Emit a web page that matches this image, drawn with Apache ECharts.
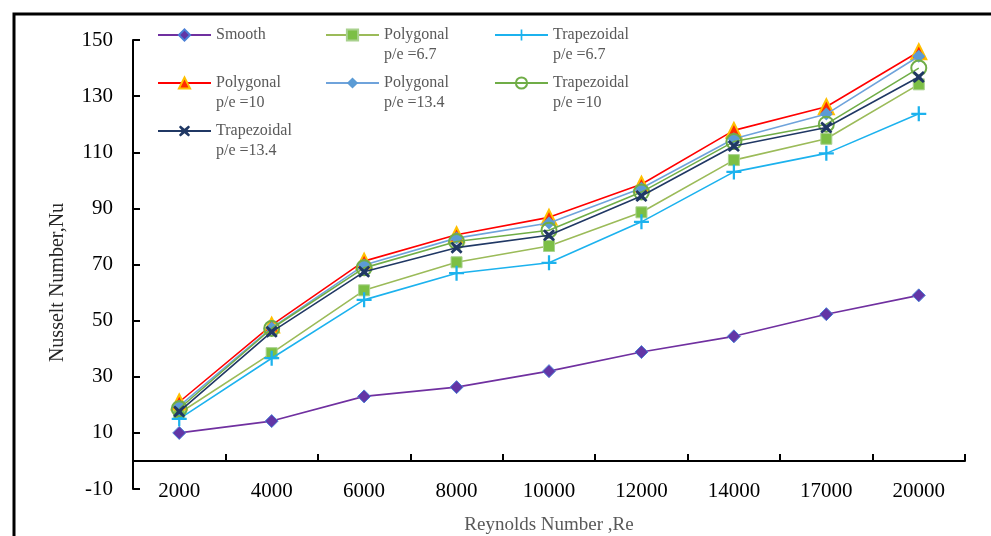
<!DOCTYPE html>
<html>
<head>
<meta charset="utf-8">
<script src="https://cdn.jsdelivr.net/npm/echarts@6/dist/echarts.min.js"></script>
<style>
html,body{margin:0;padding:0;background:#fff;}
#chart{width:991px;height:536px;}
</style>
</head>
<body>
<div id="chart"></div>
<script>
var categories = ['2000','4000','6000','8000','10000','12000','14000','17000','20000'];
var yTicks = [-10, 10, 30, 50, 70, 90, 110, 130, 150];
var seriesNames = ['Smooth','Polygonal\np/e =6.7','Trapezoidal\np/e =6.7','Polygonal\np/e =10','Polygonal\np/e =13.4','Trapezoidal\np/e =10','Trapezoidal\np/e =13.4'];
var smooth = [10, 14.2, 23, 26.3, 32, 38.8, 44.4, 52.3, 59];
var poly67 = [17, 38.4, 60.8, 70.8, 76.6, 88.6, 107.2, 114.8, 134.2];
var trap67 = [15, 36.6, 57.4, 66.9, 70.6, 85.2, 103, 109.6, 123.7];
var poly10 = [21, 48.4, 71.2, 80.6, 86.8, 98.6, 117.8, 126.2, 145.8];
var poly134 = [19.5, 47.4, 69.8, 79.4, 84.8, 97.2, 114.8, 123.6, 144.2];
var trap10 = [18.6, 47.2, 68.8, 78.2, 82.2, 95.8, 113.8, 120, 140];
var trap134 = [17.6, 46, 67.4, 76, 80.4, 94.4, 112.2, 118.8, 136.8];

var FONT = "'Liberation Serif','Times New Roman',serif";
var plusPath = 'path://M8.5,0H11.5V8.5H20V11.5H11.5V20H8.5V11.5H0V8.5H8.5Z';
var xPath = 'path://M0,3L3,0L10,6L17,0L20,3L14,10L20,17L17,20L10,14L3,20L0,17L6,10Z';

var styles = [
  {data: smooth, line:'#7030A0', symbol:'diamond', size:13, fill:'#6236A6', border:'#4A7FD6', bw:1},
  {data: poly67, line:'#9BBB59', symbol:'rect', size:11, fill:'#7CBF45', border:'#A9D18E', bw:1},
  {data: trap67, line:'#1CB2EE', symbol:plusPath, size:15, fill:'#1CB2EE', border:'#1CB2EE', bw:0},
  {data: poly10, line:'#FF0000', symbol:'triangle', size:15, fill:'#FF2A00', border:'#FFC000', bw:2},
  {data: poly134, line:'#6FA3DB', symbol:'diamond', size:13, fill:'#5B9BD5', border:'#5B9BD5', bw:0},
  {data: trap10, line:'#70AD47', symbol:'circle', size:15, fill:'rgba(255,255,255,0)', border:'#70AD47', bw:2},
  {data: trap134, line:'#203864', symbol:xPath, size:12, fill:'#203864', border:'#203864', bw:0}
];

var series = styles.map(function(s, i){
  return {
    name: seriesNames[i],
    type: 'line',
    xAxisIndex: 0,
    data: s.data,
    symbol: s.symbol,
    symbolSize: s.size,
    showAllSymbol: true,
    lineStyle: {color: s.line, width: 1.6},
    itemStyle: {color: s.fill, borderColor: s.border, borderWidth: s.bw},
    emphasis: {disabled: true},
    animation: false,
    z: 2 + i
  };
});

var legendPos = [
  [157, 25], [325, 5], [494, 5],
  [157, 53], [325, 53], [494, 53],
  [157, 101]
];
var legends = seriesNames.map(function(n, i){
  var twoLine = n.indexOf('\n') >= 0;
  return {
    data: [n],
    left: legendPos[i][0],
    top: legendPos[i][1],
    padding: 0,
    itemWidth: 53,
    itemHeight: 14,
    itemGap: 0,
    selectedMode: false,
    formatter: function(name){ return twoLine ? '\n' + name : name; },
    textStyle: {
      fontFamily: FONT, fontSize: 16, color: '#595959', lineHeight: 20
    }
  };
});

var chart = echarts.init(document.getElementById('chart'));
chart.setOption({
  backgroundColor: '#fff',
  animation: false,
  legend: legends,
  grid: {left: 133, right: 26, top: 40, bottom: 47, containLabel: false, outerBoundsMode: 'none'},
  xAxis: [
    {
      type: 'category', data: categories, position: 'bottom',
      boundaryGap: true,
      axisLine: {onZero: true, lineStyle: {color: '#000', width: 2}},
      axisTick: {show: true, inside: true, length: 7, lineStyle: {color: '#000', width: 2}},
      axisLabel: {show: false},
      splitLine: {show: false}
    },
    {
      type: 'category', data: categories, position: 'bottom',
      boundaryGap: true,
      axisLine: {show: false, onZero: false},
      axisTick: {show: false},
      axisLabel: {show: true, fontFamily: FONT, fontSize: 21, color: '#000', margin: 2, verticalAlign: 'middle'},
      splitLine: {show: false},
      name: 'Reynolds Number ,Re',
      nameLocation: 'middle',
      nameGap: 27,
      nameTextStyle: {fontFamily: FONT, fontSize: 19, color: '#595959'}
    }
  ],
  yAxis: {
    type: 'value', min: -10, max: 150, interval: 20,
    axisLine: {show: true, onZero: false, lineStyle: {color: '#000', width: 2}},
    axisTick: {show: true, inside: true, length: 7, lineStyle: {color: '#000', width: 2}},
    axisLabel: {fontFamily: FONT, fontSize: 21, color: '#000', margin: 20},
    splitLine: {show: false},
    name: 'Nusselt Number,Nu',
    nameLocation: 'middle',
    nameGap: 65,
    nameRotate: 90,
    nameTextStyle: {fontFamily: FONT, fontSize: 20, color: '#262626', padding: [0, 36, 0, 0]}
  },
  graphic: [{
    type: 'rect', silent: true, z: 100,
    shape: {x: 14, y: 14, width: 1000, height: 600},
    style: {fill: 'none', stroke: '#000', lineWidth: 3}
  }],
  series: series
});
</script>
</body>
</html>
